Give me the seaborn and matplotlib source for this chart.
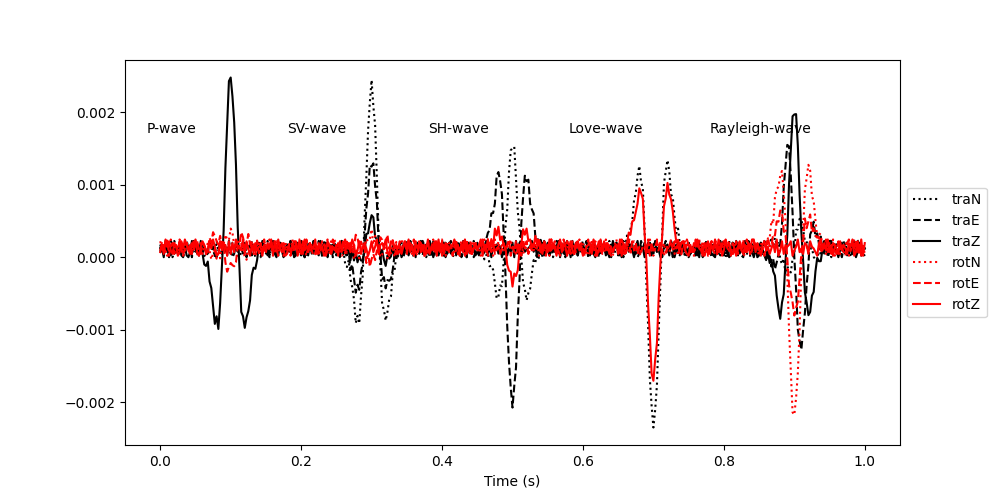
import numpy as np
import matplotlib
matplotlib.use("Agg")
import matplotlib.pyplot as plt
import seaborn as sns

# sample grid: 0 .. 1 s every 2.5 ms
n_samples = 401
dt = 0.0025

# background noise, one digit per sample (digit * 2.5e-5)
noise_rows = [
    "3817264095 1827364509 7264810395 5093817264 2846103957",
    "6194028375 2905716384 0472619583 1750284963 1749205863",
    "2749501836 6081729453 9184062735 5062749183 9473016258",
    "8036195274 4917350286 1536082794 7296038157 4038259167",
    "5920874613 1583926074 7260491538 0928173456 9360728145",
    "1473690528 2609481537 3581720649 4713029586 1852937406",
    "9265048317 8340256719 6049283715 2561907348 4721065938",
    "4701839625 2958730416 8310627594 3074816392 9603857214",
    "0583162749 9274068351 4729038165 6803592417 6185420793",
    "7392605418 3641759028 2907514638 3728910645 2937604815",
]

# wave arrivals (s) and the labels drawn above them
wave_times = [0.1, 0.3, 0.5, 0.7, 0.9]
wave_names = ["P-wave", "SV-wave", "SH-wave", "Love-wave", "Rayleigh-wave"]

# wavelets, units of 1e-5, centred on the arrival
traz_p = [-5, -10, -17, -26, -41, -60, -79, -97, -104, -99, -76, -31, 34, 108, 175, 223,
          238,
          222, 176, 110, 36, -30, -78, -104, -110, -103, -82, -62, -42, -27, -16, -9, -4]
rotn_p = [0, -1, -1, -2, -3, -5, -7, -8, -9, -8, -6, -3, 3, 9, 15, 19,
          20,
          19, 15, 9, 3, -3, -6, -8, -9, -8, -7, -5, -3, -2, -1, -1, 0]
rote_p = [1, 1, 2, 3, 5, 8, 10, 12, 13, 13, 10, 4, -4, -14, -22, -28,
          -30,
          -28, -22, -14, -4, 4, 10, 13, 13, 12, 10, 8, 5, 3, 2, 1, 1]

tran_sv = [-4, -9, -16, -24, -38, -56, -73, -91, -101, -94, -71, -29, 31, 100, 162, 206,
           222,
           206, 162, 100, 31, -29, -70, -90, -95, -88, -71, -54, -37, -24, -15, -9, -4]
trae_sv = [-2, -5, -8, -13, -20, -30, -40, -49, -53, -50, -38, -16, 17, 54, 88, 112,
           120,
           112, 88, 54, 17, -16, -38, -50, -53, -49, -40, -30, -20, -13, -8, -5, -2]
traz_sv = [-1, -2, -3, -4, -7, -9, -12, -15, -17, -16, -12, -5, 5, 17, 28, 35,
           38,
           35, 28, 17, 5, -5, -12, -16, -17, -15, -12, -9, -7, -4, -3, -2, -1]
rotn_sv = [0, -1, -1, -2, -2, -4, -5, -6, -6, -6, -4, -2, 2, 6, 10, 13,
           14,
           13, 10, 6, 2, -2, -4, -6, -6, -6, -5, -4, -2, -2, -1, -1, 0]
rote_sv = [0, 1, 2, 2, 4, 6, 7, 9, 10, 9, 7, 3, -3, -10, -16, -20,
           -22,
           -20, -16, -10, -3, 3, 7, 9, 10, 9, 7, 6, 4, 2, 2, 1, 0]

trae_sh = [4, 9, 16, 25, 38, 56, 74, 92, 100, 95, 72, 29, -31, -97, -157, -200,
           -215,
           -200, -157, -97, -31, 29, 72, 95, 100, 92, 74, 56, 38, 25, 16, 9, 4]
tran_sh = [-3, -6, -10, -15, -24, -35, -46, -57, -62, -59, -45, -18, 20, 63, 102, 130,
           138,
           130, 102, 63, 20, -18, -45, -59, -62, -57, -46, -35, -24, -15, -10, -6, -3]
rotz_sh = [1, 2, 3, 5, 8, 11, 15, 18, 20, 19, 14, 6, -6, -20, -33, -42,
           -45,
           -42, -33, -20, -6, 6, 14, 19, 20, 18, 15, 11, 8, 5, 3, 2, 1]

tran_love = [5, 10, 17, 27, 42, 61, 81, 100, 106, 101, 78, 32, -34, -110, -179, -228,
             -245,
             -228, -179, -110, -34, 32, 80, 106, 114, 104, 84, 63, 43, 28, 17, 10, 5]
rotz_love = [4, 7, 12, 19, 30, 44, 58, 72, 78, 74, 56, 23, -25, -79, -128, -163,
             -175,
             -163, -128, -79, -25, 23, 56, 74, 78, 72, 58, 44, 30, 19, 12, 7, 4]

traz_ray = [-4, -8, -13, -21, -32, -48, -63, -78, -85, -80, -61, -25, 27, 86, 139, 172,
            192,
            175, 139, 86, 27, -25, -61, -80, -85, -78, -63, -48, -32, -21, -13, -8, -4]
trae_ray = [-3, -6, -11, -18, -25, -29, -27, -14, 11, 46, 87, 123, 140, 133, 105, 59,
            0,
            -59, -105, -133, -140, -123, -87, -46, -11, 14, 27, 29, 25, 18, 11, 6, 3]
tran_ray = [1, 1, 3, 5, 6, 7, 7, 4, -3, -12, -22, -31, -35, -33, -26, -15,
            0,
            15, 26, 33, 35, 31, 22, 12, 3, -4, -7, -7, -6, -5, -3, -1, -1]
rotn_ray = [5, 9, 16, 26, 39, 58, 77, 95, 103, 97, 74, 30, -32, -104, -169, -216,
            -232,
            -216, -169, -104, -32, 30, 74, 97, 103, 95, 77, 58, 39, 26, 16, 9, 5]
rote_ray = [2, 4, 6, 10, 15, 23, 30, 37, 40, 38, 29, 12, -13, -41, -66, -84,
            -90,
            -84, -66, -41, -13, 12, 29, 38, 40, 37, 30, 23, 15, 10, 6, 4, 2]

noise = np.array([int(c) for c in "".join(noise_rows).replace(" ", "")])
time = np.linspace(0.0, 1.0, n_samples)


def build_trace(offset, base, waves):
    """noise slice plus the wavelets at their arrival times"""
    y = noise[offset:offset + n_samples] * 2.5e-5 + base
    for t0, w in waves:
        start = int(round(t0 / dt)) - len(w) // 2
        y[start:start + len(w)] += np.array(w) * 1e-5
    return y


traces = [
    ("traN", "black", ":", build_trace(0, 0.0, [(0.3, tran_sv), (0.5, tran_sh),
                                              (0.7, tran_love), (0.9, tran_ray)])),
    ("traE", "black", "--", build_trace(13, 0.0, [(0.3, trae_sv), (0.5, trae_sh),
                                                (0.9, trae_ray)])),
    ("traZ", "black", "-", build_trace(29, 0.0, [(0.1, traz_p), (0.3, traz_sv),
                                               (0.9, traz_ray)])),
    ("rotN", "red", ":", build_trace(41, 2e-5, [(0.1, rotn_p), (0.3, rotn_sv),
                                              (0.9, rotn_ray)])),
    ("rotE", "red", "--", build_trace(57, 2e-5, [(0.1, rote_p), (0.3, rote_sv),
                                               (0.9, rote_ray)])),
    ("rotZ", "red", "-", build_trace(73, 2e-5, [(0.5, rotz_sh), (0.7, rotz_love)])),
]

fig, ax = plt.subplots(figsize=(10, 5), dpi=100)

for name, color, ls, values in traces:
    sns.lineplot(x=time, y=values, color=color, linestyle=ls, label=name,
                 estimator=None, sort=False, errorbar=None, ax=ax)

for t0, name in zip(wave_times, wave_names):
    ax.text(t0 - 0.12, 0.00171, name, fontsize=10)

ax.set_xlabel("Time (s)")
ax.set_ylabel("")
ax.legend(loc="center left", bbox_to_anchor=(1, 0.5))

plt.savefig("out.png", dpi=100)
